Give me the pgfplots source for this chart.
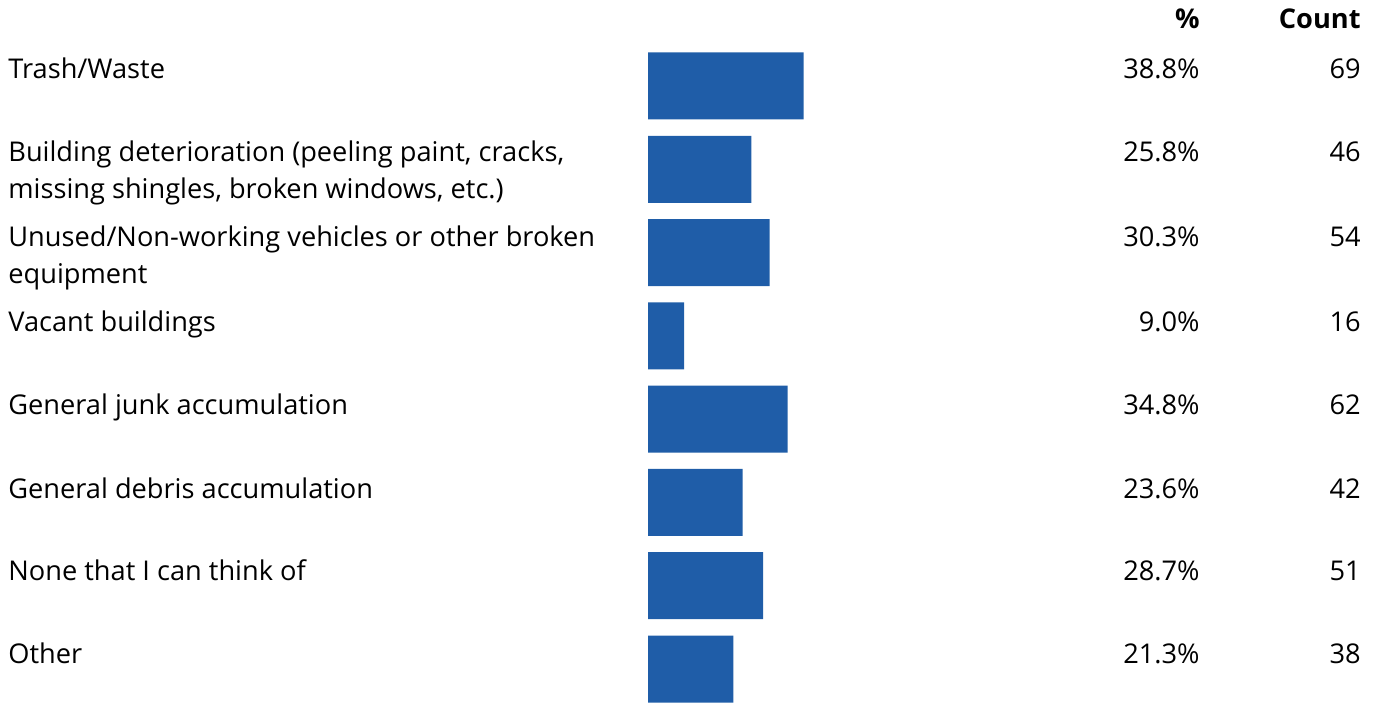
\documentclass[border=0pt]{standalone}
\usepackage{pgfplots}
\pgfplotsset{compat=1.18}
\usepackage{fontspec}
\setmainfont{Open Sans}
\definecolor{barblue}{HTML}{1F5DA8}

\begin{document}
\begin{tikzpicture}
\begin{axis}[
    name=ax,
    scale only axis,
    width=687pt, height=351pt,
    xmin=-161.6, xmax=181.05,
    ymin=-7.396, ymax=1.0326,
    hide axis,
    clip=false,
    xbar, bar width=33.5pt, bar shift=0pt,
]
% share of respondents (%), rows top to bottom
\addplot[fill=barblue, draw=none] coordinates {
    (38.8,0) (25.8,-1) (30.3,-2) (9.0,-3)
    (34.8,-4) (23.6,-5) (28.7,-6) (21.3,-7)
};
\end{axis}
% keep the whole frame in the picture
\path (ax.south west) rectangle (ax.north east);

% text in pixel units of the reference (1px = 0.5pt), origin at top left
\begin{scope}[shift={(ax.north west)}, x=0.5pt, y=-0.5pt,
    every node/.style={inner sep=0pt, font=\fontsize{13.6}{18}\selectfont}]
  \node[anchor=base east, font=\fontsize{13.6}{18}\selectfont\bfseries] at (1200,29) {\%};
  \node[anchor=base east, font=\fontsize{13.6}{18}\selectfont\bfseries] at (1361,29) {Count};

  \node[anchor=base west] at (8,79)  {Trash/Waste};
  \node[anchor=base west] at (8,162) {Building deterioration (peeling paint, cracks,};
  \node[anchor=base west] at (8,199) {missing shingles, broken windows, etc.)};
  \node[anchor=base west] at (8,247) {Unused/Non-working vehicles or other broken};
  \node[anchor=base west] at (8,284) {equipment};
  \node[anchor=base west] at (8,332) {Vacant buildings};
  \node[anchor=base west] at (8,415) {General junk accumulation};
  \node[anchor=base west] at (8,498) {General debris accumulation};
  \node[anchor=base west] at (8,580) {None that I can think of};
  \node[anchor=base west] at (8,663) {Other};

  \foreach \yy/\pc/\ct in {79/38.8/69, 162/25.8/46, 247/30.3/54, 332/9.0/16,
                           415/34.8/62, 498/23.6/42, 580/28.7/51, 663/21.3/38} {
    \node[anchor=base east] at (1200,\yy) {\pc\%};
    \node[anchor=base east] at (1361,\yy) {\ct};
  }
\end{scope}
\end{tikzpicture}
\end{document}
